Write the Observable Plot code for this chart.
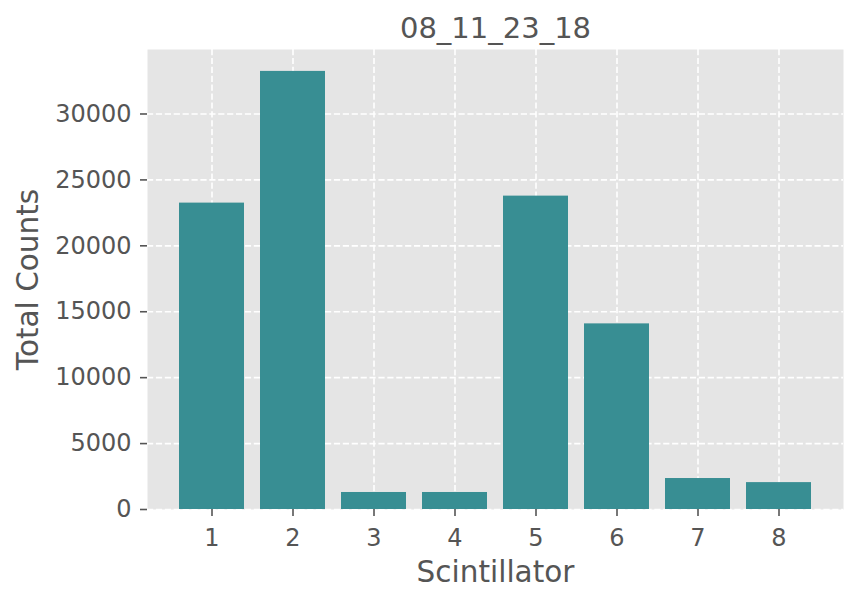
<!DOCTYPE html>
<html><head><meta charset="utf-8">
<script src="https://cdn.jsdelivr.net/npm/d3@7"></script>
<script src="https://cdn.jsdelivr.net/npm/@observablehq/plot@0.6"></script>
<style>body{margin:0;background:#fff;} svg{display:block;}</style>
</head><body><div id="chart"></div>
<script>
const title = "08_11_23_18";
const scintillators = [1, 2, 3, 4, 5, 6, 7, 8];
const totalCounts = [23240, 33230, 1290, 1290, 23770, 14080, 2350, 2040];
const yTicks = [0, 5000, 10000, 15000, 20000, 25000, 30000];
const xLabel = "Scintillator";
const yLabel = "Total Counts";

const data = scintillators.map((s, i) => ({scintillator: s, count: totalCounts[i]}));
const yMax = d3.max(totalCounts) * 1.05;
const textColor = "#555555";
const font = "DejaVu Sans";
const gridStyle = {stroke: "white", strokeOpacity: 1, strokeWidth: 1.6, strokeDasharray: "6.2,2.7"};

const chart = Plot.plot({
  width: 858, height: 601,
  marginLeft: 147, marginRight: 15, marginTop: 49, marginBottom: 92,
  style: {fontFamily: font, color: textColor, background: "white"},
  x: {type: "band", domain: scintillators, paddingInner: 0.2, paddingOuter: 0.39, align: 0.5},
  y: {domain: [0, yMax]},
  marks: [
    Plot.frame({fill: "#e5e5e5", stroke: "none"}),
    Plot.gridY(yTicks, gridStyle),
    Plot.gridX(scintillators, gridStyle),
    Plot.barY(data, {x: "scintillator", y: "count", fill: "#388e93"}),
    Plot.axisY(yTicks, {tickSize: 7, tickPadding: 9, fontSize: 24, strokeWidth: 1.6, label: null, tickFormat: "d"}),
    Plot.axisX(scintillators, {tickSize: 7, tickPadding: 12, fontSize: 24, strokeWidth: 1.6, label: null, tickFormat: "d"}),
    Plot.text([yLabel], {text: d => d, frameAnchor: "left", textAnchor: "middle", rotate: -90, dx: -110, lineAnchor: "bottom", fontSize: 29.5, fill: textColor}),
    Plot.text([xLabel], {text: d => d, frameAnchor: "bottom", textAnchor: "middle", dy: 72, lineAnchor: "bottom", fontSize: 29.5, fill: textColor}),
    Plot.text([title], {text: d => d, frameAnchor: "top", textAnchor: "middle", dy: -12, lineAnchor: "bottom", fontSize: 29, fill: textColor})
  ]
});
document.getElementById("chart").append(chart);
</script>
</body></html>
